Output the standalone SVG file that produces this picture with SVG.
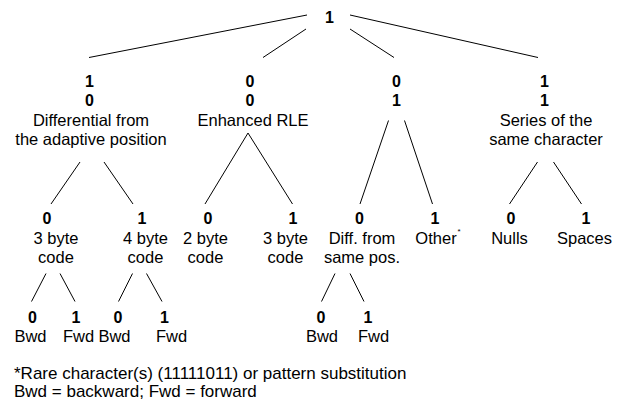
<svg xmlns="http://www.w3.org/2000/svg" width="621" height="403" viewBox="0 0 621 403">
<style>
text{font-family:"Liberation Sans",Arial,sans-serif;fill:#000}
text.d{font-family:"Liberation Sans",Arial,sans-serif;font-size:16px;font-weight:700;text-anchor:middle}
text.t{font-size:16.5px;text-anchor:middle}
text.f{font-size:17px}
text.sup{font-size:8px}
#connectors line{stroke:#000;stroke-width:1}
</style>
<rect width="621" height="403" fill="#fff"/>
<g id="connectors">
<line x1="307" y1="15" x2="89" y2="57.5"/>
<line x1="306" y1="29" x2="263" y2="57.5"/>
<line x1="350" y1="29" x2="394" y2="57.5"/>
<line x1="350" y1="15" x2="538" y2="57.5"/>
<line x1="80" y1="162" x2="51" y2="204"/>
<line x1="104" y1="162" x2="133" y2="204"/>
<line x1="248" y1="133" x2="205" y2="204"/>
<line x1="248" y1="133" x2="292.5" y2="204"/>
<line x1="388.5" y1="120.5" x2="360" y2="204"/>
<line x1="404.5" y1="120.5" x2="432.5" y2="204"/>
<line x1="537.5" y1="162" x2="509.5" y2="204"/>
<line x1="553.5" y1="162" x2="581.5" y2="204"/>
<line x1="46" y1="273.5" x2="31.5" y2="301.5"/>
<line x1="60" y1="273.5" x2="75" y2="301.5"/>
<line x1="132.5" y1="273.5" x2="118.5" y2="301.5"/>
<line x1="146.5" y1="273.5" x2="162" y2="301.5"/>
<line x1="335" y1="273.5" x2="321.5" y2="301.5"/>
<line x1="350" y1="273.5" x2="364" y2="301.5"/>
</g>
<g id="root"><text class="d" x="329.5" y="22.5">1</text></g>
<g id="n10">
<text class="d" x="89.5" y="87">1</text>
<text class="d" x="89.5" y="106">0</text>
<text class="t" x="91" y="126">Differential from</text>
<text class="t" x="91" y="144.5">the adaptive position</text>
</g>
<g id="n00">
<text class="d" x="250" y="87">0</text>
<text class="d" x="250" y="106">0</text>
<text class="t" x="253" y="126">Enhanced RLE</text>
</g>
<g id="n01">
<text class="d" x="396.5" y="87">0</text>
<text class="d" x="396.5" y="106">1</text>
</g>
<g id="n11">
<text class="d" x="544.5" y="87">1</text>
<text class="d" x="544.5" y="106">1</text>
<text class="t" x="546" y="126">Series of the</text>
<text class="t" x="546" y="144.5">same character</text>
</g>
<g id="n100">
<text class="d" x="47" y="224">0</text>
<text class="t" x="56" y="244">3 byte</text>
<text class="t" x="56" y="262.5">code</text>
</g>
<g id="n101">
<text class="d" x="142" y="224">1</text>
<text class="t" x="145.5" y="244">4 byte</text>
<text class="t" x="145.5" y="262.5">code</text>
</g>
<g id="n000">
<text class="d" x="208" y="224">0</text>
<text class="t" x="205.5" y="244">2 byte</text>
<text class="t" x="205.5" y="262.5">code</text>
</g>
<g id="n001">
<text class="d" x="293" y="224">1</text>
<text class="t" x="285.5" y="244">3 byte</text>
<text class="t" x="285.5" y="262.5">code</text>
</g>
<g id="n010">
<text class="d" x="359.5" y="224">0</text>
<text class="t" x="362" y="244">Diff. from</text>
<text class="t" x="362" y="262.5">same pos.</text>
</g>
<g id="n011">
<text class="d" x="435" y="224">1</text>
<text class="t" x="436" y="244">Other</text>
<text class="sup" x="457.5" y="234">*</text>
</g>
<g id="n110">
<text class="d" x="511" y="224">0</text>
<text class="t" x="509.5" y="244">Nulls</text>
</g>
<g id="n111">
<text class="d" x="586" y="224">1</text>
<text class="t" x="584.5" y="244">Spaces</text>
</g>
<g id="n1000">
<text class="d" x="32.5" y="322.5">0</text>
<text class="t" x="30.5" y="341.5">Bwd</text>
</g>
<g id="n1001">
<text class="d" x="76" y="322.5">1</text>
<text class="t" x="78.5" y="341.5">Fwd</text>
</g>
<g id="n1010">
<text class="d" x="118" y="322.5">0</text>
<text class="t" x="114.5" y="341.5">Bwd</text>
</g>
<g id="n1011">
<text class="d" x="164.5" y="322.5">1</text>
<text class="t" x="171.5" y="341.5">Fwd</text>
</g>
<g id="n0100">
<text class="d" x="321" y="322.5">0</text>
<text class="t" x="322" y="341.5">Bwd</text>
</g>
<g id="n0101">
<text class="d" x="368" y="322.5">1</text>
<text class="t" x="373.5" y="341.5">Fwd</text>
</g>
<g id="footnote">
<text class="f" x="14" y="379">*Rare character(s) (11111011) or pattern substitution</text>
<text class="f" x="14" y="397">Bwd = backward; Fwd = forward</text>
</g>
</svg>
